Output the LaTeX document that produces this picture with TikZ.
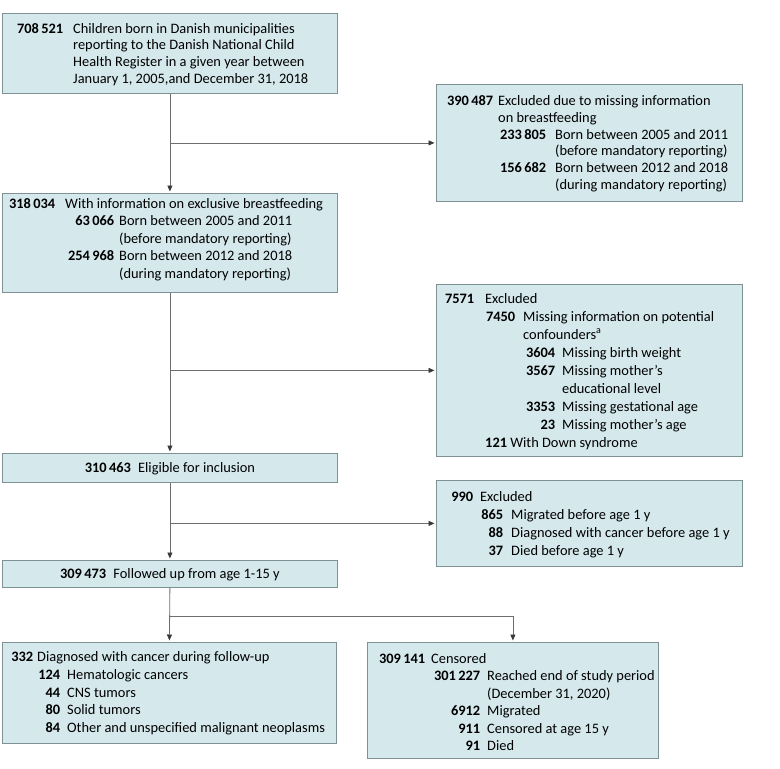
\documentclass[tikz,border=0pt]{standalone}
\usepackage{fontspec}
\setmainfont{Carlito}
\usetikzlibrary{arrows.meta,calc}
\definecolor{boxfill}{HTML}{D5E8EC}
\definecolor{boxdraw}{HTML}{7E9195}
\definecolor{linec}{HTML}{6E6E6E}
\definecolor{tipc}{HTML}{3A3A3A}
\newcommand\rw[4]{\makebox[0pt][l]{\hspace*{#1pt}\llap{\bfseries #2}}\hspace*{#3pt}#4}
\newcommand\lns[2]{\fontsize{14.4}{#1}\selectfont\begin{tabular}[t]{@{}l@{}}#2\end{tabular}}
\begin{document}
\begin{tikzpicture}[x=1pt,y=-1pt,
 box/.style={draw=boxdraw, fill=boxfill, line width=0.8pt, inner sep=0pt, anchor=north west},
 txt/.style={inner sep=0pt, anchor=base west},
 ctxt/.style={inner sep=0pt, anchor=base, font=\fontsize{14.4}{17}\selectfont},
 arr/.style={draw=linec, line width=0.8pt, -{Triangle[length=6pt,width=5pt,color=tipc]}, shorten >=1.5pt},
 ln/.style={draw=linec, line width=0.8pt}]
\useasboundingbox (0,0) rectangle (780,769);
\node[box, minimum width=335pt, minimum height=80pt] (b1) at (2,13) {};
\node[box, minimum width=306pt, minimum height=117pt] (b2) at (436,84) {};
\node[box, minimum width=335pt, minimum height=99pt] (b3) at (2,193) {};
\node[box, minimum width=306pt, minimum height=172pt] (b4) at (436,284) {};
\node[box, minimum width=335pt, minimum height=29pt] (b5) at (2,453) {};
\node[box, minimum width=306pt, minimum height=86pt] (b6) at (436,480) {};
\node[box, minimum width=335pt, minimum height=27pt] (b7) at (2,560) {};
\node[box, minimum width=334pt, minimum height=101pt] (b8) at (2,642) {};
\node[box, minimum width=291pt, minimum height=116pt] (b9) at (367,642) {};

\node[txt] (t1) at ([yshift=-20pt]b1.north west) {\lns{16.9}{%
\rw{61}{708\,521}{71}{Children born in Danish municipalities}\\
\rw{0}{}{71}{reporting to the Danish National Child}\\
\rw{0}{}{71}{Health Register in a given year between}\\
\rw{0}{}{71}{January 1, 2005,and December 31, 2018}}};

\node[txt] (t2) at ([yshift=-21.7pt]b2.north west) {\lns{16.7}{%
\rw{57}{390\,487}{62}{Excluded due to missing information}\\
\rw{0}{}{62}{on breastfeeding}\\
\rw{110}{233\,805}{119}{Born between 2005 and 2011}\\
\rw{0}{}{119}{(before mandatory reporting)}\\
\rw{110}{156\,682}{119}{Born between 2012 and 2018}\\
\rw{0}{}{119}{(during mandatory reporting)}}};

\node[txt] (t3) at ([yshift=-15pt]b3.north west) {\lns{17.5}{%
\rw{53}{318\,034}{63}{With information on exclusive breastfeeding}\\
\rw{112}{63\,066}{117}{Born between 2005 and 2011}\\
\rw{0}{}{117}{(before mandatory reporting)}\\
\rw{112}{254\,968}{117}{Born between 2012 and 2018}\\
\rw{0}{}{117}{(during mandatory reporting)}}};

\node[txt] (t4) at ([yshift=-19pt]b4.north west) {\lns{18.1}{%
\rw{38}{7571}{49}{Excluded}\\
\rw{79}{7450}{87}{Missing information on potential}\\
\rw{0}{}{87}{confounders\textsuperscript{a}}\\
\rw{119}{3604}{126}{Missing birth weight}\\
\rw{119}{3567}{126}{Missing mother’s}\\
\rw{0}{}{126}{educational level}\\
\rw{119}{3353}{126}{Missing gestational age}\\
\rw{119}{23}{126}{Missing mother’s age}\\
\rw{0}{}{49}{\textbf{121} With Down syndrome}}};

\node[ctxt] (t5) at ([yshift=-19pt]b5.north) {\textbf{310\,463}\enspace Eligible for inclusion};

\node[txt] (t6) at ([yshift=-21pt]b6.north west) {\lns{18.3}{%
\rw{37}{990}{44}{Excluded}\\
\rw{67}{865}{75}{Migrated before age 1 y}\\
\rw{67}{88}{75}{Diagnosed with cancer before age 1 y}\\
\rw{67}{37}{75}{Died before age 1 y}}};

\node[ctxt] (t7) at ([yshift=-18pt]b7.north) {\textbf{309\,473}\enspace Followed up from age 1-15 y};

\node[txt] (t8) at ([yshift=-19.7pt]b8.north west) {\lns{17.7}{%
\rw{31}{332}{35}{Diagnosed with cancer during follow-up}\\
\rw{58}{124}{65}{Hematologic cancers}\\
\rw{58}{44}{65}{CNS tumors}\\
\rw{58}{80}{65}{Solid tumors}\\
\rw{58}{84}{65}{Other and unspecified malignant neoplasms}}};

\node[txt] (t9) at ([yshift=-21pt]b9.north west) {\lns{17.5}{%
\rw{58}{309\,141}{64}{Censored}\\
\rw{113}{301\,227}{120}{Reached end of study period}\\
\rw{0}{}{120}{(December 31, 2020)}\\
\rw{113}{6912}{120}{Migrated}\\
\rw{113}{911}{120}{Censored at age 15 y}\\
\rw{113}{91}{120}{Died}}};

\draw[arr] (b1.south) -- (b3.north);
\draw[arr] (b1.south |- b2.west) -- (b2.west);
\draw[arr] (b3.south) -- (b5.north);
\draw[arr] (b3.south |- b4.west) -- (b4.west);
\draw[arr] (b5.south) -- (b7.north);
\draw[arr] (b5.south |- b6.west) -- (b6.west);
\coordinate (sp) at ([yshift=-28.5pt]b7.south);
\draw[arr] (b7.south) -- (b8.north);
\draw[arr] (sp) -| (b9.north);
\end{tikzpicture}
\end{document}
